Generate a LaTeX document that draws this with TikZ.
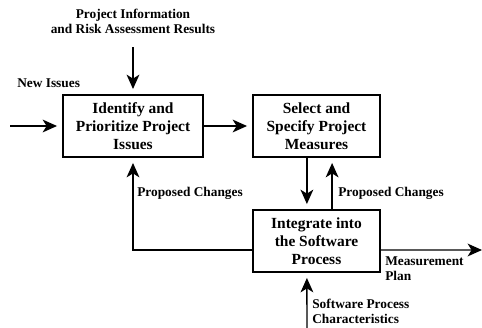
\documentclass[tikz,border=0pt]{standalone}
\usepackage{fontspec}
\setmainfont{Liberation Serif}
\usepackage{tikz}
\usetikzlibrary{arrows.meta,positioning}

\begin{document}
\begin{tikzpicture}[
  x=0.25mm,y=-0.25mm,
  box/.style={draw,rectangle,minimum height=15.5mm,minimum width=31.75mm,
              align=center,inner sep=0pt,line width=1.1pt,
              font=\fontsize{11}{12.8}\selectfont\bfseries},
  arr/.style ={-{Stealth[length=3.6mm,width=3.2mm,inset=1mm]},line width=1pt,
               shorten >=1.3mm},
  lbl/.style ={font=\fontsize{9.5}{10.7}\selectfont\bfseries,align=left,inner sep=0pt}
]
\useasboundingbox (0,0) rectangle (482,327);

%% Three process boxes
\node[box,minimum width=35mm] (ide) at (133,126)   {Identify and\\Prioritize Project\\Issues};
\node[box]                    (sel) at (316.5,126) {Select and\\Specify Project\\Measures};
\node[box]                    (itg) at (316.5,241) {Integrate into\\the Software\\Process};

%% Free ends of the inputs and output
\coordinate (pin)  at (133,47);
\coordinate (nin)  at (10,126);
\coordinate (sin)  at (307,335);
\coordinate (mout) at (482,250);

%% Inputs
\draw[arr] (pin) -- (ide.north);
\draw[arr] (nin) -- (ide.west);
\draw[arr] (sin) -- ([xshift=-2.4mm]itg.south);

%% Forward flow
\draw[arr] (ide.east) -- (sel.west);
\draw[arr] ([xshift=-2.4mm]sel.south) -- ([xshift=-2.4mm]itg.north);

%% Feedback
\draw[arr] ([xshift=3.9mm]itg.north) -- ([xshift=3.9mm]sel.south);
\draw[arr] ([yshift=-2.25mm]itg.west) -| (ide.south);

%% Output
\draw[arr,shorten >=0pt] ([yshift=-2.25mm]itg.east) -- (mout);

%% Labels
\node[lbl,align=center] (pinf) at (133,21.5) {Project Information\\and Risk Assessment Results};
\node[lbl,anchor=west]  (nlab) at (17,83)    {New Issues};
\node[lbl,anchor=west]  (pc1)  at (137,193)  {Proposed Changes};
\node[lbl,anchor=west]  (pc2)  at (338,193)  {Proposed Changes};
\node[lbl,anchor=west]  (mlab) at (385,268.5){Measurement\\Plan};
\node[lbl,anchor=west]  (slab) at (312,311)  {Software Process\\Characteristics};
\end{tikzpicture}
\end{document}
